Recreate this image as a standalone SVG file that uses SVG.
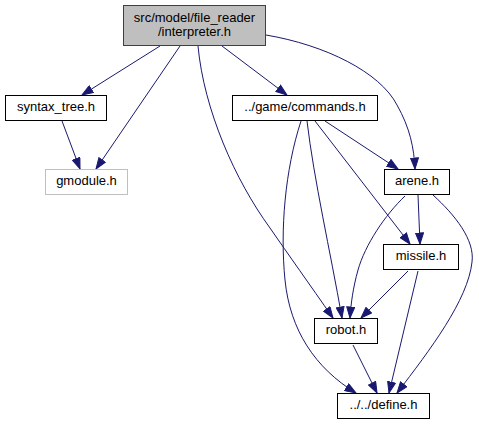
<svg xmlns="http://www.w3.org/2000/svg" width="479" height="425" viewBox="0 0 479 425">
<style>
.n rect{fill:#ffffff;stroke:#000000;stroke-width:1}
.n text{font-family:"Liberation Sans",Arial,Helvetica,sans-serif;font-size:13px;fill:#000000;text-anchor:middle}
#root rect{fill:#bfbfbf;stroke:#404040}
#gmodule rect{stroke:#bfbfbf}
.e path{fill:none;stroke:#191970;stroke-width:1;marker-end:url(#ah)}
</style>
<defs>
<marker id="ah" markerUnits="userSpaceOnUse" viewBox="0 0 12 9" markerWidth="12" markerHeight="9" refX="11.5" refY="4.5" orient="auto">
<path d="M0.5,0.5 L11.5,4.5 L0.5,8.5 Z" fill="#191970" stroke="#191970" stroke-width="1"/>
</marker>
</defs>
<rect width="479" height="425" fill="#ffffff"/>
<g id="edges" class="e">
<path d="M160,46 L82,95"/>
<path d="M180,46 L96,169"/>
<path d="M222,46 L287,95"/>
<path d="M198,46 C204,110 235,180 270,228 C288,254 310,285 333,318"/>
<path d="M266,35 C325,45 380,72 397,105 C410,128 414,148 415,169"/>
<path d="M62,121 L80,169"/>
<path d="M325,121 L398,169"/>
<path d="M307,121 C314,180 330,250 342,318"/>
<path d="M315,121 L410,244"/>
<path d="M301,121 C285,170 280,230 285,280 C290,330 315,368 356,393"/>
<path d="M418,195 L420,244"/>
<path d="M405,196 C385,215 365,245 358,270 C353,288 351,303 350,318"/>
<path d="M433,195 C455,215 475,240 472,262 C468,300 430,350 397,393"/>
<path d="M408,271 L361,318"/>
<path d="M418,271 L389,393"/>
<path d="M353,345 L377,393"/>
</g>
<g id="root" class="n"><rect x="123.5" y="5.5" width="142" height="40"/><text x="194.5" y="21.5">src/model/file_reader</text><text x="194.5" y="36">/interpreter.h</text></g>
<g id="syntax_tree" class="n"><rect x="5.5" y="95.5" width="101" height="25"/><text x="56" y="111">syntax_tree.h</text></g>
<g id="gmodule" class="n"><rect x="45.5" y="169.5" width="82" height="25"/><text x="86.5" y="185">gmodule.h</text></g>
<g id="commands" class="n"><rect x="232.5" y="95.5" width="145" height="25"/><text x="305" y="111">../game/commands.h</text></g>
<g id="arene" class="n"><rect x="384.5" y="169.5" width="65" height="25"/><text x="417" y="185">arene.h</text></g>
<g id="missile" class="n"><rect x="383.5" y="244.5" width="75" height="25"/><text x="421" y="260">missile.h</text></g>
<g id="robot" class="n"><rect x="314.5" y="318.5" width="63" height="25"/><text x="346" y="334">robot.h</text></g>
<g id="define" class="n"><rect x="337.5" y="393.5" width="92" height="25"/><text x="383.5" y="409">../../define.h</text></g>
</svg>
